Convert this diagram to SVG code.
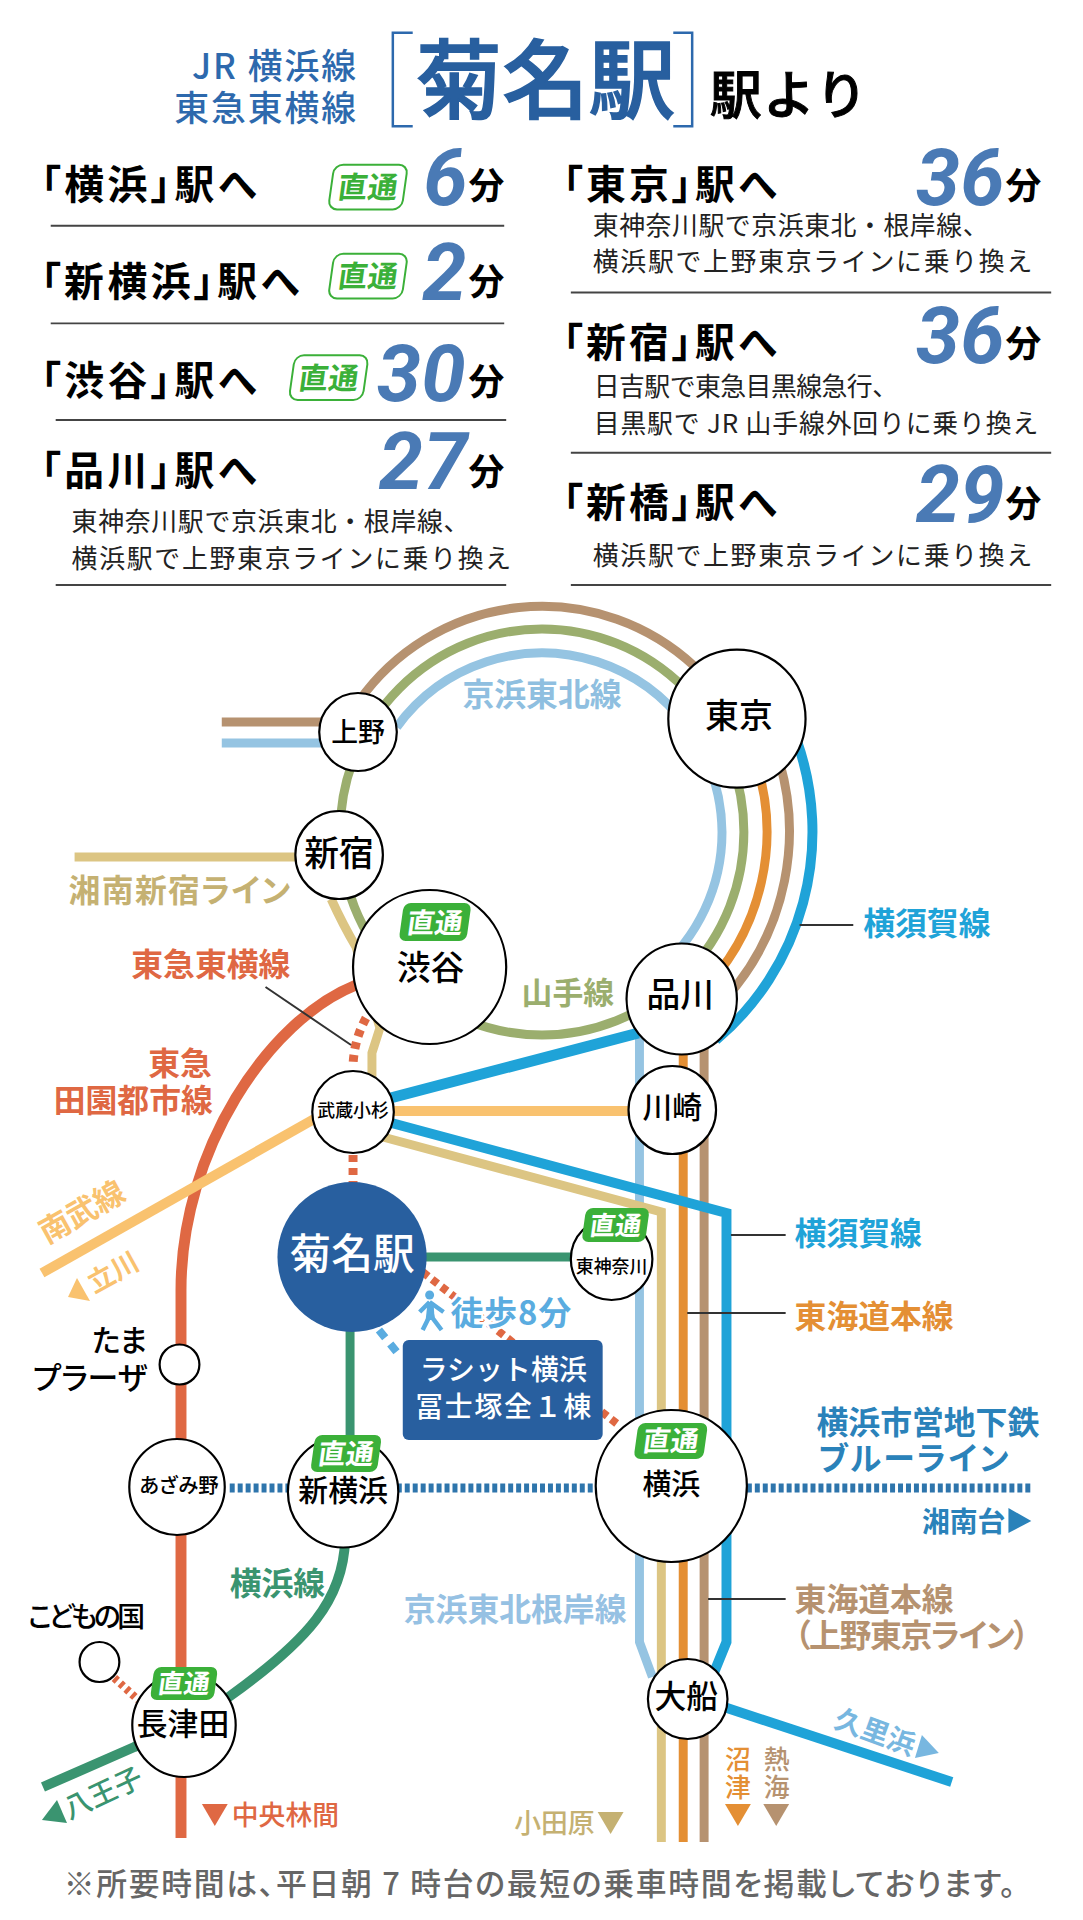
<svg xmlns="http://www.w3.org/2000/svg" width="1083" height="1920" viewBox="0 0 1083 1920">
<style>
text{font-family:"Noto Sans CJK JP","Noto Sans",sans-serif;font-feature-settings:"palt";font-weight:500}
.st{fill:#fff;stroke:#000;stroke-width:2.2}
.ln{fill:none;stroke-width:9}
.lb{stroke:#95c4e2}.gr{stroke:#9bae6e}.br{stroke:#b69270}.or{stroke:#e48f34}.cy{stroke:#1fa3d8}.tn{stroke:#dcc583}.rd{stroke:#df6843}.na{stroke:#f9c26f}.yk{stroke:#3a9470}
.ld{fill:none;stroke:#333;stroke-width:2}
.c{text-anchor:middle}.e{text-anchor:end}
.h{font-size:40px;font-weight:700;fill:#000}
.m{font-size:36px;font-weight:700;fill:#000}
.d{font-family:Roboto,"Noto Sans",sans-serif;font-size:80px;font-weight:700;font-style:italic;fill:#4a7ab5;text-anchor:end}
.s{font-size:26px;font-weight:400;fill:#222;font-feature-settings:normal}
.r{stroke:#444;stroke-width:2}
.bo{fill:#fff;stroke:#3bb039;stroke-width:2}
.bf{fill:#3bb039}
.bt{font-weight:700;text-anchor:middle}
.l{font-weight:700}
</style>
<g id="top" transform="scale(.9945 .995)">
<g id="title">
<text x="360" y="79" class="e" font-size="35" fill="#2d69ad" letter-spacing="2">JR 横浜線</text>
<text x="360" y="122" class="e" font-size="35" fill="#2d69ad" letter-spacing="2">東急東横線</text>
<path d="M415 33H395V127H415M677 33H696V127H677" fill="none" stroke="#2d69ad" stroke-width="2.5"/>
<text x="418" y="113" font-size="87" font-weight="900" fill="#285f9f" stroke="#285f9f" stroke-width="1.5">菊名駅</text>
<text x="714" y="115" font-size="52" font-weight="900" fill="#000" stroke="#000" stroke-width="1" textLength="158" style="font-feature-settings:normal">駅より</text>
</g>
<g id="times">
<text x="41" y="200" class="h" textLength="217">「横浜」駅へ</text>
<text x="41" y="297" class="h" textLength="260">「新横浜」駅へ</text>
<text x="41" y="397" class="h" textLength="217">「渋谷」駅へ</text>
<text x="41" y="487" class="h" textLength="217">「品川」駅へ</text>
<text x="566" y="200" class="h" textLength="215">「東京」駅へ</text>
<text x="566" y="359" class="h" textLength="215">「新宿」駅へ</text>
<text x="566" y="520" class="h" textLength="215">「新橋」駅へ</text>
<text x="470" y="206" class="d">6</text><text x="469" y="302" class="d">2</text><text x="468" y="403" class="d">30</text><text x="470" y="491" class="d">27</text>
<text x="1010" y="206" class="d">36</text><text x="1010" y="365" class="d">36</text><text x="1010" y="525" class="d">29</text>
<text x="471" y="200" class="m">分</text><text x="471" y="296" class="m">分</text><text x="471" y="397" class="m">分</text><text x="471" y="487" class="m">分</text>
<text x="1011" y="200" class="m">分</text><text x="1011" y="359" class="m">分</text><text x="1011" y="520" class="m">分</text>
<text x="596" y="236" class="s" textLength="398">東神奈川駅で京浜東北・根岸線、</text>
<text x="596" y="272" class="s" textLength="442">横浜駅で上野東京ラインに乗り換え</text>
<text x="597" y="398" class="s" textLength="306">日吉駅で東急目黒線急行、</text>
<text x="597" y="435" class="s" textLength="447">目黒駅で JR 山手線外回りに乗り換え</text>
<text x="596" y="568" class="s" textLength="442">横浜駅で上野東京ラインに乗り換え</text>
<text x="72" y="534" class="s" textLength="400">東神奈川駅で京浜東北・根岸線、</text>
<text x="72" y="571" class="s" textLength="442">横浜駅で上野東京ラインに乗り換え</text>
<path class="r" d="M51 227H507M51 325H507M56 422H509M56 588H509M574 294H1057M574 455H1057M574 588H1057"/>
<g transform="translate(370 188) skewX(-8)"><rect class="bo" x="-37" y="-22.5" width="74" height="45" rx="9"/><text class="bt" y="11" font-size="30" fill="#3bb039">直通</text></g>
<g transform="translate(370 277.500) skewX(-8)"><rect class="bo" x="-37" y="-22.5" width="74" height="45" rx="9"/><text class="bt" y="11" font-size="30" fill="#3bb039">直通</text></g>
<g transform="translate(330.500 379.500) skewX(-8)"><rect class="bo" x="-37" y="-22.5" width="74" height="45" rx="9"/><text class="bt" y="11" font-size="30" fill="#3bb039">直通</text></g>
</g>
</g>
<g id="map" transform="scale(.9945 1)">
<g id="connectors">
<path class="ln br" d="M223 722H360M361 701A226 226 0 0 1 698 666"/>
<path class="ln lb" d="M223 743H360M399 727A181 181 0 0 1 726 832A181 181 0 0 1 660 972"/>
<path class="ln lb" d="M643 1030V1642L656 1677"/>
<circle class="ln gr" cx="545" cy="832" r="203"/>
<path class="ln or" d="M755.600 750A226 226 0 0 1 700 997M687 1030V1842"/>
<path class="ln br" d="M780 750A249 249 0 0 1 730 998M708 1030V1842"/>
<path class="ln tn" d="M75 857H340M333 899Q345 925 358 947L382 1028L374 1053V1085"/>
<path class="ln tn" d="M385 1137L665 1212V1842"/>
<path class="ln cy" style="stroke-width:10" d="M801 740A272 272 0 0 1 720 1040"/>
<path class="ln cy" style="stroke-width:11" d="M385 1100L642 1033"/>
<path class="ln cy" style="stroke-width:10" d="M390 1122L730.500 1213V1642L717 1675"/>
<path class="ln cy" style="stroke-width:10" d="M725 1706L957 1782"/>
<path class="ln rd" style="stroke-width:11" d="M358 985C270 1020 182 1150 182 1290V1838"/>
<path class="ln na" style="stroke-width:10" d="M42.200 1273L355 1097"/>
<path class="ln na" style="stroke-width:10" d="M355 1111H676"/>
<path class="ln yk" d="M354 1257H600M352 1300V1450"/>
<path class="ln yk" style="stroke-width:10" d="M347 1540C345 1600 310 1640 230 1697Q190 1725 135 1747L43.200 1787"/>
<path class="ln" stroke="#2e75ac" stroke-dasharray="5 3" d="M231 1488H1038"/>
<path class="ln rd" style="stroke-dasharray:7 6" d="M368 1018Q356 1040 355 1065"/>
<path class="ln rd" style="stroke-dasharray:7 6" d="M355 1155V1184"/>
<path class="ln rd" style="stroke-width:8;stroke-dasharray:4 4" d="M115 1678L139 1700"/>
<path class="ln rd" style="stroke-width:8;stroke-dasharray:7 5" d="M425 1272L622 1425"/>
<path class="ln" stroke="#5aace0" style="stroke-width:8;stroke-dasharray:10 8" d="M381 1330L399 1352"/>
<path class="ld" d="M804 925H858M267 987L353 1045M735 1235H790M691 1313H790M712 1599H790"/>
</g>
<g id="labels">
<text class="c l" x="545" y="706" font-size="32" fill="#8fbfe0">京浜東北線</text>
<text class="c l" x="571" y="1004" font-size="31" fill="#9bae6e">山手線</text>
<text class="l" x="868" y="935" font-size="32" fill="#1fa3d8">横須賀線</text>
<text class="l" x="69" y="902" font-size="32" fill="#c5b172" textLength="223">湘南新宿ライン</text>
<text class="l" x="132" y="976" font-size="32" fill="#df6843">東急東横線</text>
<text class="e l" x="213" y="1075" font-size="32" fill="#df6843">東急</text>
<text class="e l" x="214" y="1112" font-size="32" fill="#df6843">田園都市線</text>
<text class="c l" font-size="31" fill="#f9c26f" transform="translate(82.500 1212) rotate(-29) translate(0 11)">南武線</text>
<text class="c l" font-size="27" fill="#f9c26f" transform="translate(113.600 1272) rotate(-29) translate(0 10)">立川</text>
<polygon fill="#f9c26f" points="77.400,1278 68.400,1297 90.500,1301"/>
<text class="l" x="799" y="1245" font-size="32" fill="#1fa3d8">横須賀線</text>
<text class="l" x="799" y="1328" font-size="32" fill="#e48f34">東海道本線</text>
<text class="l" x="821" y="1434" font-size="32" fill="#2a82ba" textLength="224">横浜市営地下鉄</text>
<text class="l" x="823" y="1470" font-size="32" fill="#2a82ba" textLength="191">ブルーライン</text>
<text class="l" x="927" y="1532" font-size="28" fill="#2a82ba">湘南台</text>
<polygon fill="#2a82ba" points="1014,1508 1037,1521 1014,1533"/>
<text class="l" x="231" y="1595" font-size="32" fill="#3a9470">横浜線</text>
<text class="l" x="406" y="1621" font-size="32" fill="#96c1e3">京浜東北根岸線</text>
<text class="l" x="799" y="1611" font-size="32" fill="#b69270">東海道本線</text>
<text class="l" x="799" y="1647" font-size="32" fill="#b69270" textLength="236">（上野東京ライン）</text>
<text class="e" x="148" y="1351" font-size="30" fill="#000">たま</text>
<text class="e" x="148" y="1389" font-size="31" fill="#000">プラーザ</text>
<text x="28" y="1627" font-size="28" fill="#000" textLength="118">こどもの国</text>
<text class="c l" font-size="28" fill="#78b7e0" transform="translate(880 1732) rotate(20) translate(0 10)">久里浜</text>
<polygon fill="#78b7e0" points="927,1735 944,1753 920,1758"/>
<text class="c" x="742" y="1769" font-size="26" fill="#e48f34">沼</text><text class="c" x="742" y="1797" font-size="26" fill="#e48f34">津</text>
<polygon fill="#e48f34" points="729,1804 755,1804 742,1826"/>
<text class="c" x="781" y="1769" font-size="26" fill="#b69270">熱</text><text class="c" x="781" y="1797" font-size="26" fill="#b69270">海</text>
<polygon fill="#b69270" points="767.500,1804 793.500,1804 780.500,1826"/>
<text x="233" y="1825" font-size="27" fill="#df6843">中央林間</text>
<polygon fill="#df6843" points="203,1804 229,1804 216,1826"/>
<text x="517" y="1833" font-size="27" fill="#c5b172">小田原</text>
<polygon fill="#c5b172" points="601,1812 627,1812 614,1834"/>
<text class="c" font-size="28" fill="#3a9470" transform="translate(103.500 1793) rotate(-25) translate(0 10)">八王子</text>
<polygon fill="#3a9470" points="57.300,1800 42.200,1820 67.400,1823"/>
<text x="64" y="1895" font-size="31" font-weight="400" fill="#666" textLength="957">※所要時間は、平日朝 7 時台の最短の乗車時間を掲載しております。</text>
</g>
<g id="walk">
<text class="l" x="453" y="1325" font-size="33" fill="#5aace0" stroke="#fff" stroke-width="5" paint-order="stroke" letter-spacing="1">徒歩8分</text>
<circle cx="432" cy="1295" r="4.500" fill="#5aace0"/>
<path d="M432 1302L422 1312M432 1302L446 1312M432 1304L435 1318L444 1330M431 1318L425 1330" fill="none" stroke="#5aace0" stroke-width="4.500"/>
<path d="M430 1302L428 1320H437L436 1303Z" fill="#5aace0"/>
</g>
<g id="n-kikuna"><circle cx="354" cy="1257" r="75" fill="#285f9f"/><text class="c" x="354" y="1269" font-size="42" font-weight="700" fill="#fff">菊名駅</text></g>
<g id="n-rasit"><rect x="405" y="1340" width="201" height="100" rx="6" fill="#285f9f"/><text class="c" x="506" y="1380" font-size="28" fill="#fff" textLength="168" style="font-feature-settings:normal">ラシット横浜</text><text class="c" x="506" y="1417" font-size="28" fill="#fff" textLength="177" style="font-feature-settings:normal">冨士塚全１棟</text></g>
<g id="n-ueno"><circle class="st" cx="360" cy="732" r="39"/><text class="c" x="360" y="742" font-size="27">上野</text></g>
<g id="n-tokyo"><circle class="st" cx="741" cy="718.700" r="69"/><text class="c" x="743" y="728" font-size="34">東京</text></g>
<g id="n-shinjuku"><circle class="st" cx="341" cy="855" r="44"/><text class="c" x="341" y="866" font-size="35">新宿</text></g>
<g id="n-shibuya"><circle class="st" cx="432" cy="967" r="77"/><text class="c" x="433" y="980" font-size="34">渋谷</text></g>
<g id="n-shinagawa"><circle class="st" cx="685.500" cy="999" r="55.500"/><text class="c" x="684" y="1007" font-size="34">品川</text></g>
<g id="n-kosugi"><circle class="st" cx="355" cy="1112" r="41"/><text class="c" x="355" y="1117" font-size="18">武蔵小杉</text></g>
<g id="n-kawasaki"><circle class="st" cx="676" cy="1110" r="44"/><text class="c" x="676" y="1118" font-size="30">川崎</text></g>
<g id="n-higashikanagawa"><circle class="st" cx="615" cy="1259" r="41"/><text class="c" x="615" y="1273" font-size="18">東神奈川</text></g>
<g id="n-tama"><circle class="st" cx="180.500" cy="1364.500" r="20"/></g>
<g id="n-azamino"><circle class="st" cx="178" cy="1487" r="48"/><text class="c" x="180" y="1493" font-size="20.500">あざみ野</text></g>
<g id="n-shinyokohama"><circle class="st" cx="345" cy="1492" r="55.500"/><text class="c" x="345" y="1501" font-size="30">新横浜</text></g>
<g id="n-yokohama"><circle class="st" cx="675" cy="1486" r="76"/><text class="c" x="675" y="1495" font-size="29">横浜</text></g>
<g id="n-ofuna"><circle class="st" cx="691.500" cy="1699" r="40"/><text class="c" x="690" y="1708" font-size="32">大船</text></g>
<g id="n-nagatsuta"><circle class="st" cx="185" cy="1725" r="52"/><text class="c" x="184" y="1735" font-size="31">長津田</text></g>
<g id="n-kodomo"><circle class="st" cx="100" cy="1662" r="20"/></g>
<g id="badges">
<g transform="translate(437.500 922) skewX(-8)"><rect class="bf" x="-34" y="-19" width="68" height="38" rx="7"/><text class="bt" y="10.500" font-size="28" fill="#fff">直通</text></g>
<g transform="translate(619 1225) skewX(-8)"><rect class="bf" x="-32" y="-17" width="64" height="34" rx="7"/><text class="bt" y="9.500" font-size="26" fill="#fff">直通</text></g>
<g transform="translate(348 1453.500) skewX(-8)"><rect class="bf" x="-33.500" y="-18.500" width="67" height="37" rx="7"/><text class="bt" y="10" font-size="28" fill="#fff">直通</text></g>
<g transform="translate(674.500 1441) skewX(-8)"><rect class="bf" x="-35" y="-18" width="70" height="36" rx="7"/><text class="bt" y="10" font-size="28" fill="#fff">直通</text></g>
<g transform="translate(185 1683.500) skewX(-8)"><rect class="bf" x="-32" y="-16.500" width="64" height="33" rx="7"/><text class="bt" y="9.500" font-size="26" fill="#fff">直通</text></g>
</g>
</g>
</svg>
